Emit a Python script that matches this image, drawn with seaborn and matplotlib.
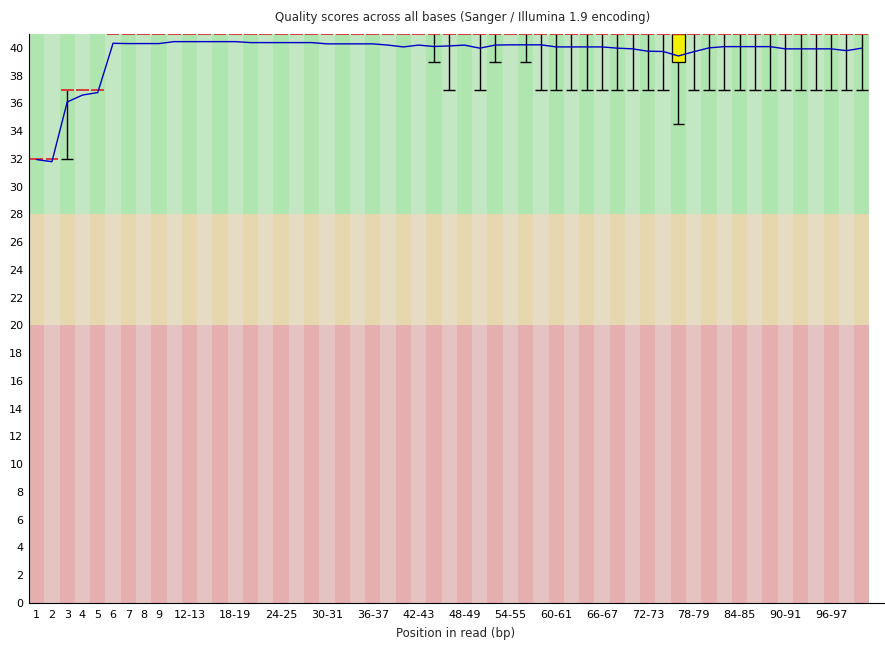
import matplotlib
matplotlib.use("Agg")
import matplotlib.pyplot as plt
import seaborn as sns
import numpy as np
import pandas as pd

# ---------------- data ----------------
categories = ["1", "2", "3", "4", "5", "6", "7", "8", "9",
              "10-11", "12-13", "14-15", "16-17", "18-19", "20-21", "22-23",
              "24-25", "26-27", "28-29", "30-31", "32-33", "34-35", "36-37",
              "38-39", "40-41", "42-43", "44-45", "46-47", "48-49", "50-51",
              "52-53", "54-55", "56-57", "58-59", "60-61", "62-63", "64-65",
              "66-67", "68-69", "70-71", "72-73", "74-75", "76-77", "78-79",
              "80-81", "82-83", "84-85", "86-87", "88-89", "90-91", "92-93",
              "94-95", "96-97", "98-99", "100-101"]

shown_labels = ["1", "2", "3", "4", "5", "6", "7", "8", "9",
                "12-13", "18-19", "24-25", "30-31", "36-37", "42-43",
                "48-49", "54-55", "60-61", "66-67", "72-73", "78-79",
                "84-85", "90-91", "96-97"]

mean_q = [31.95, 31.80, 36.10, 36.60, 36.78, 40.33, 40.31, 40.31, 40.31,
          40.45, 40.45, 40.45, 40.45, 40.45, 40.38, 40.38, 40.38, 40.38,
          40.38, 40.29, 40.29, 40.29, 40.29, 40.20, 40.07, 40.20, 40.10,
          40.14, 40.20, 39.98, 40.20, 40.22, 40.22, 40.22, 40.07, 40.07,
          40.07, 40.07, 39.98, 39.93, 39.76, 39.74, 39.42, 39.72, 40.00,
          40.09, 40.09, 40.09, 40.09, 39.93, 39.93, 39.93, 39.93, 39.80,
          39.98]

median_q = [32, 32, 37, 37, 37] + [41] * 50

q1 = [32, 32, 37, 37, 37] + [41] * 37 + [39] + [41] * 12
q3 = [32, 32, 37, 37, 37] + [41] * 37 + [41] + [41] * 12

p10 = [32, 32, 32, 37, 37, 41, 41, 41, 41, 41, 41, 41, 41, 41, 41, 41, 41,
       41, 41, 41, 41, 41, 41, 41, 41, 41, 39, 37, 41, 37, 39, 41, 39, 37,
       37, 37, 37, 37, 37, 37, 37, 37, 34.5, 37, 37, 37, 37, 37, 37, 37,
       37, 37, 37, 37, 37]
p90 = [32, 32, 37, 37, 37] + [41] * 50

zones = [(0, 20, "#e6afaf", "#e6c3c3"),
         (20, 28, "#e6d7af", "#e6dcc3"),
         (28, 41, "#afe6af", "#c3e6c3")]

# ---------------- figure ----------------
sns.set_style("white")
plt.rcParams["font.family"] = ["DejaVu Sans"]

W, H = 885, 647
fig = plt.figure(figsize=(W / 100, H / 100), dpi=100)
ax = fig.add_axes([29 / W, (H - 603) / H, (W - 29) / W, (603 - 34) / H])

n = len(categories)
xs = np.arange(n)

# background stripes
for lo, hi, dark, light in zones:
    ax.bar(xs, hi - lo, bottom=lo, width=1.0,
           color=[dark if i % 2 == 0 else light for i in xs],
           linewidth=0, zorder=0)

hw = 0.4
# whiskers
for i in xs:
    if p10[i] < q1[i]:
        ax.vlines(i, p10[i], q1[i], color="black", lw=1.0, zorder=2)
        ax.hlines(p10[i], i - hw + 0.02, i + hw - 0.02, color="black", lw=1.0, zorder=2)
    if p90[i] > q3[i]:
        ax.vlines(i, q3[i], p90[i], color="black", lw=1.0, zorder=2)
        ax.hlines(p90[i], i - hw, i + hw, color="black", lw=1.0, zorder=2)
# boxes
for i in xs:
    if q3[i] > q1[i]:
        ax.bar(i, q3[i] - q1[i], bottom=q1[i], width=2 * hw,
               color="#f0f000", edgecolor="black", linewidth=0.9, zorder=3)
# medians
for i in xs:
    ax.hlines(median_q[i], i - hw - 0.02, i + hw + 0.02, color="#d83030",
              lw=1.3, zorder=4)

# mean line
df = pd.DataFrame({"pos": xs, "mean": mean_q})
sns.lineplot(data=df, x="pos", y="mean", ax=ax, color="#0000c8",
             lw=1.0, zorder=5, legend=False)

ax.set_xlim(-0.5, -0.5 + (W - 29) / 15.28)
ax.set_ylim(0, 41)
ax.set_yticks(np.arange(0, 41, 2))
ax.set_yticklabels([str(v) for v in range(0, 41, 2)])
tick_pos = [categories.index(l) for l in shown_labels]
ax.set_xticks(tick_pos)
ax.set_xticklabels(shown_labels)
ax.tick_params(axis="both", length=0, labelsize=8, colors="black")
ax.tick_params(axis="y", pad=4)
ax.tick_params(axis="x", pad=5)
ax.set_xlabel("")
ax.set_ylabel("")
for s in ["top", "right"]:
    ax.spines[s].set_visible(False)
for s in ["left", "bottom"]:
    ax.spines[s].set_color("black")
    ax.spines[s].set_linewidth(0.8)

fig.text(463 / W, 1 - 18 / H,
         "Quality scores across all bases (Sanger / Illumina 1.9 encoding)",
         ha="center", va="center", fontsize=8.5)
fig.text(456 / W, 1 - 634 / H, "Position in read (bp)",
         ha="center", va="center", fontsize=8.5)

fig.savefig("out.png", dpi=100)
